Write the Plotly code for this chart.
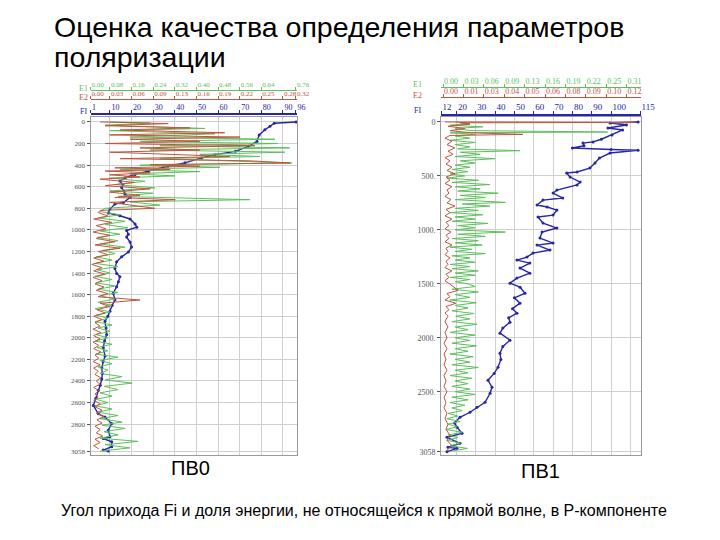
import plotly.graph_objects as go

# ---------------- DATA ----------------
# Left panel (ПВ0)
l_fi_ticks = [1, 10, 20, 30, 40, 50, 60, 70, 80, 90, 96]
l_e1_text = ["0.00", "0.08", "0.16", "0.24", "0.32", "0.40", "0.48", "0.56", "0.64", "0.76"]
l_e2_text = ["0.00", "0.03", "0.06", "0.09", "0.13", "0.16", "0.19", "0.22", "0.25", "0.28", "0.32"]
l_depth_ticks = [0, 200, 400, 600, 800, 1000, 1200, 1400, 1600, 1800, 2000, 2200, 2400, 2600, 2800, 3058]

l_fi_depth = [0, 12, 40, 73, 120, 180, 226, 272, 303, 333, 379, 410, 456, 486, 517, 548, 580, 608, 640, 670,
              700, 746, 761, 807, 844, 869, 899, 945, 975, 1006, 1040, 1067, 1113, 1159, 1205, 1250, 1296, 1358,
              1404, 1434, 1480, 1526, 1587, 1648, 1700, 1755, 1800, 1847, 1910, 1970, 2030, 2092, 2168, 2220,
              2275, 2330, 2382, 2440, 2489, 2560, 2627, 2704, 2734, 2795, 2856, 2917, 2933, 2963, 3009, 3040, 3050]
l_fi = [96, 86, 84, 81.6, 79, 78, 74, 68, 58.5, 52.4, 44.7, 36.8, 27.6, 21.6, 17, 14.6, 16, 15.4, 16.5, 17,
        19.3, 16.2, 12.3, 10, 9.2, 14.6, 19.3, 21.6, 22.4, 17.7, 18.5, 17.7, 19.3, 20, 18.5, 15.4, 13.1, 12.3,
        13.1, 14.6, 13.9, 13.1, 11.5, 12.3, 11, 10, 9, 7.7, 8.2, 8.5, 7.5, 6.9, 7.7, 6.8,
        6.2, 6.5, 6.2, 5.5, 4.6, 3.5, 2.3, 4.6, 7.7, 10.8, 9.2, 10, 6.9, 10.8, 10.8, 6.9, 9.2]

l_e1_depth = [0, 10, 30, 60, 80, 110, 140, 160, 180, 200, 220, 240, 260, 280, 300, 320, 340, 360, 380, 400,
              420, 440, 460, 480, 500, 520, 550, 580, 610, 640, 660, 690, 720, 740, 770, 800,
              830, 860, 890, 920, 950, 980, 1010, 1040, 1070, 1100, 1130, 1160, 1190, 1220, 1250, 1280, 1310,
              1340, 1370, 1400, 1430, 1460, 1490, 1520, 1550, 1580, 1610, 1640, 1670, 1700, 1730, 1760, 1790,
              1820, 1850, 1880, 1910, 1940, 1970, 2000, 2030, 2060, 2090, 2120, 2150, 2180, 2210, 2240, 2270,
              2300, 2330, 2360, 2390, 2420, 2450, 2480, 2510, 2540, 2570, 2600, 2630, 2660, 2690, 2720, 2750,
              2780, 2810, 2840, 2870, 2900, 2930, 2960, 2990, 3020, 3050]
l_e1 = [0.072, 0.220, 0.054, 0.424, 0.072, 0.461, 0.146, 0.683, 0.183, 0.694, 0.257, 0.738, 0.220, 0.720,
        0.405, 0.627, 0.257, 0.516, 0.746, 0.183, 0.479, 0.109, 0.405, 0.146, 0.313, 0.072, 0.202, 0.091,
        0.239, 0.072, 0.231, 0.102, 0.590, 0.146, 0.257, 0.054,
        0.035, 0.109, 0.028, 0.128, 0.054, 0.139, 0.035, 0.109, 0.024, 0.102, 0.035, 0.128, 0.043, 0.091,
        0.020, 0.080, 0.017, 0.102, 0.024, 0.072, 0.017, 0.080, 0.020, 0.091, 0.028, 0.102, 0.035, 0.091,
        0.028, 0.080, 0.017, 0.072, 0.020, 0.065, 0.017, 0.080, 0.028, 0.072, 0.020, 0.065, 0.017, 0.080,
        0.024, 0.065, 0.020, 0.102, 0.035, 0.080, 0.028, 0.065, 0.035, 0.117, 0.054, 0.154, 0.050, 0.102,
        0.035, 0.080, 0.020, 0.065, 0.017, 0.080, 0.028, 0.102, 0.035, 0.117, 0.043, 0.128, 0.050, 0.102,
        0.035, 0.176, 0.054, 0.146, 0.035]

l_e2_depth = [0, 15, 35, 55, 75, 100, 120, 140, 160, 180, 200, 220, 240, 260, 280, 300, 320, 340, 360, 380,
              395, 410, 425, 440, 455, 470, 490, 510, 530, 560, 590, 620, 650, 680, 700, 720, 745, 770, 800, 820,
              840, 870, 900, 930, 960, 990, 1020, 1050, 1080, 1110, 1140, 1170, 1200, 1230, 1260, 1290, 1320,
              1350, 1380, 1410, 1440, 1470, 1500, 1530, 1560, 1590, 1620, 1650, 1680, 1710, 1740, 1770, 1800,
              1830, 1860, 1890, 1920, 1950, 1980, 2010, 2040, 2070, 2100, 2130, 2160, 2190, 2220, 2250, 2280,
              2310, 2340, 2370, 2400, 2430, 2460, 2490, 2520, 2550, 2580, 2610, 2640, 2670, 2700, 2730, 2760,
              2790, 2820, 2850, 2880, 2910, 2940, 2970, 3000, 3030]
l_e2 = [0.015, 0.121, 0.023, 0.155, 0.046, 0.209, 0.030, 0.233, 0.062, 0.170, 0.023, 0.256, 0.077, 0.170,
        0.030, 0.124, 0.217, 0.046, 0.248, 0.311, 0.093, 0.170, 0.038, 0.124, 0.023, 0.093, 0.030, 0.077,
        0.015, 0.069, 0.023, 0.093, 0.030, 0.077, 0.038, 0.132, 0.030, 0.062, 0.100, 0.015,
        0.012, 0.027, 0.005, 0.033, 0.009, 0.024, 0.004, 0.030, 0.009, 0.038,
        0.007, 0.046, 0.012, 0.027, 0.005, 0.021, 0.002, 0.018, 0.005, 0.023,
        0.004, 0.018, 0.007, 0.021, 0.009, 0.027, 0.012, 0.077, 0.015, 0.030,
        0.010, 0.023, 0.005, 0.018, 0.007, 0.015, 0.004, 0.016, 0.005, 0.015,
        0.004, 0.013, 0.005, 0.016, 0.007, 0.013, 0.004, 0.015, 0.005, 0.012,
        0.007, 0.016, 0.009, 0.015, 0.005, 0.013, 0.007, 0.012, 0.005, 0.015,
        0.007, 0.018, 0.009, 0.021, 0.010, 0.018, 0.007, 0.015, 0.009, 0.019,
        0.007, 0.015, 0.005, 0.013]

# Right panel (ПВ1)
r_fi_ticks = [12, 20, 30, 40, 50, 60, 70, 80, 90, 100, 115]
r_e1_text = ["0.00", "0.03", "0.06", "0.09", "0.13", "0.16", "0.19", "0.22", "0.25", "0.31"]
r_e2_text = ["0.00", "0.01", "0.03", "0.04", "0.05", "0.06", "0.08", "0.09", "0.10", "0.12"]
r_depth_ticks = [0, 500, 1000, 1500, 2000, 2500, 3058]
r_depth_text = ["0", "500.", "1000.", "1500.", "2000.", "2500.", "3058"]

r_fi_depth = [0, 9, 28, 56, 74, 120, 160, 185, 195, 220, 241, 255, 262, 288, 334, 380, 427, 464, 473, 510,
              557, 584, 631, 659, 705, 724, 770, 788, 816, 863, 881, 937, 983, 1020, 1076, 1122, 1141, 1187,
              1215, 1252, 1280, 1308, 1354, 1401, 1447, 1494, 1531, 1587, 1630, 1679, 1730, 1772, 1815, 1855,
              1910, 1957, 2022, 2080, 2143, 2200, 2273, 2330, 2393, 2458, 2514, 2597, 2644, 2690, 2737, 2790,
              2829, 2885, 2922, 2978, 3015, 3024, 3055]
r_fi = [114, 99.5, 108, 98.4, 106, 100.5, 95, 90.7, 85.5, 86, 80, 100, 114, 99.5, 94, 91.7, 89, 82.4, 77, 78.8,
        84, 82.4, 72, 70, 75, 64.8, 61.7, 66.9, 72, 70, 62.2, 64.8, 72, 64.3, 63.2, 70, 61.7, 68.4,
        59.6, 56.5, 51.3, 58, 52.9, 58, 51.3, 47.7, 52.9, 55.5, 50, 52.9, 49, 51.3, 47, 47.7,
        44, 42.5, 47.7, 44, 42.5, 43, 41.5, 39.5, 36.3, 38.4, 37.4, 34.8, 30.6, 27, 21.8, 19,
        20.3, 22.9, 15.1, 21.8, 15.6, 20.3, 15.1]

r_e1_depth = [0, 15, 30, 45, 60, 80, 93, 100, 115, 130, 150, 170, 190, 210, 230, 250, 266, 280, 300, 320,
              340, 360, 380, 400, 420, 440, 460, 480, 500, 520, 540, 560, 580, 600, 620, 640, 660, 680, 700,
              720, 745, 760, 780, 800, 820, 840, 860, 880, 900, 920, 940, 960, 980, 1000, 1020, 1040, 1060,
              1080, 1100, 1120, 1140, 1160, 1180, 1200, 1220, 1240, 1260, 1280, 1300, 1320, 1340, 1360, 1380,
              1400, 1420, 1440, 1460, 1480, 1500,
              1525, 1550, 1575, 1600, 1625, 1650, 1675, 1700, 1725, 1750, 1775, 1800, 1825, 1850, 1875, 1900,
              1925, 1950, 1975, 2000, 2025, 2050, 2075, 2100, 2125, 2150, 2175, 2200, 2225, 2250, 2275, 2300,
              2325, 2350, 2375, 2400, 2425, 2450, 2475, 2500, 2525, 2550, 2575, 2600, 2625, 2650, 2675, 2700,
              2725, 2750, 2775, 2800, 2825, 2850, 2875, 2900, 2925, 2950, 2975, 3000, 3025, 3050]
r_e1 = [0.022, 0.045, 0.014, 0.065, 0.022, 0.045, 0.259, 0.014, 0.053, 0.022, 0.045, 0.014, 0.053, 0.022,
        0.045, 0.026, 0.123, 0.030, 0.061, 0.022, 0.084, 0.030, 0.053, 0.022, 0.045, 0.017, 0.042, 0.014,
        0.037, 0.009, 0.058, 0.017, 0.076, 0.022, 0.061, 0.026, 0.089, 0.030, 0.069, 0.022, 0.100, 0.033,
        0.076, 0.022, 0.058, 0.014, 0.065, 0.022, 0.053, 0.017, 0.073, 0.026, 0.053, 0.022, 0.100, 0.026,
        0.069, 0.017, 0.058, 0.022, 0.064, 0.014, 0.048, 0.022, 0.069, 0.017, 0.045, 0.022, 0.053, 0.014,
        0.045, 0.017, 0.058, 0.022, 0.053, 0.014, 0.045, 0.022, 0.042,
        0.053, 0.017, 0.058, 0.022, 0.045, 0.014, 0.055, 0.022, 0.042, 0.017, 0.051, 0.023, 0.045, 0.017,
        0.056, 0.022, 0.042, 0.014, 0.053, 0.022, 0.045, 0.017, 0.055, 0.022, 0.042, 0.014, 0.050, 0.022,
        0.045, 0.017, 0.058, 0.022, 0.042, 0.014, 0.048, 0.022, 0.042, 0.017, 0.045, 0.022, 0.053, 0.017,
        0.042, 0.014, 0.037, 0.017, 0.033, 0.011, 0.026, 0.009, 0.030, 0.011, 0.025, 0.008, 0.033, 0.011,
        0.026, 0.009, 0.030, 0.014, 0.041, 0.017]

r_e2_depth = [0, 4, 8, 20, 40, 60, 80, 100, 115, 125,
              150, 180, 210, 240, 270, 300, 330, 360, 390, 420, 450, 480, 510, 540, 570, 600, 630, 660, 690,
              720, 750, 780, 810, 840, 870, 900, 930, 960, 990, 1020, 1050, 1080, 1110, 1140, 1170, 1200,
              1230, 1260, 1290, 1320, 1350, 1380, 1410, 1440, 1470, 1500,
              1530, 1560, 1590, 1620, 1650, 1680, 1710, 1740, 1770, 1800,
              1850, 1900, 1950, 2000, 2050, 2100, 2150, 2200, 2250, 2300, 2350, 2400, 2450, 2500, 2550, 2600,
              2650, 2700, 2750, 2800, 2850, 2900, 2950, 3000, 3050]
r_e2 = [0.0024, 0.117, 0.0115, 0.0175, 0.0042, 0.0145, 0.0054, 0.0175, 0.0494, 0.0054,
        0.0024, 0.0066, 0.0036, 0.0084, 0.0042, 0.0072, 0.0024, 0.0054, 0.0030, 0.0066,
        0.0036, 0.0084, 0.0030, 0.0054, 0.0024, 0.0066, 0.0036, 0.0048, 0.0024, 0.0060,
        0.0036, 0.0084, 0.0030, 0.0054, 0.0024, 0.0066, 0.0030, 0.0048, 0.0024, 0.0060,
        0.0030, 0.0048, 0.0024, 0.0066, 0.0030, 0.0042, 0.0024, 0.0054, 0.0030, 0.0042,
        0.0024, 0.0066, 0.0030, 0.0048, 0.0024, 0.0054,
        0.0078, 0.0103, 0.0036, 0.0054, 0.0024, 0.0090, 0.0030, 0.0048, 0.0024, 0.0042,
        0.0024, 0.0042, 0.0024, 0.0036, 0.0018, 0.0036, 0.0018, 0.0030, 0.0018, 0.0036,
        0.0018, 0.0030, 0.0018, 0.0036, 0.0018, 0.0030, 0.0018, 0.0036, 0.0024, 0.0042,
        0.0030, 0.0054, 0.0036, 0.0066, 0.0030]

# ---------------- LAYOUT HELPERS ----------------
W, H = 720, 540


def px(x):
    return x / W


def py(y):
    return 1 - y / H


GREEN = "#5cbf5c"
RED = "#c0553f"
BLUE = "#2626a6"
GRID = "#cfcfcf"
FRAME = "#9a9a9a"
FONT = "Liberation Sans, Arial, sans-serif"
SERIF = "Liberation Serif, Times New Roman, serif"

L_FI_RANGE = [1, 96.5]
L_E1_RANGE = [0, 0.765]
L_E2_RANGE = [0, 0.3216]
R_FI_RANGE = [12, 115.5]
R_E1_RANGE = [0, 0.311]
R_E2_RANGE = [0, 0.1206]


def rescale(v, src, dst):
    return dst[0] + (v - src[0]) / (src[1] - src[0]) * (dst[1] - dst[0])


# left E-scales are labelled at the FI grid lines (E1 skips the 90 line)
l_e1_pos = [rescale(f, L_FI_RANGE, L_E1_RANGE) for f in [1, 10, 20, 30, 40, 50, 60, 70, 80, 96]]
l_e2_pos = [rescale(f, L_FI_RANGE, L_E2_RANGE) for f in l_fi_ticks]
# right E-scales are labelled at ten equally spaced marks (fractions of the track width)
r_frac = [(2 + 20.4 * i) / 200 for i in range(10)]
r_e1_pos = [R_E1_RANGE[1] * f for f in r_frac]
r_e2_pos = [R_E2_RANGE[1] * f for f in r_frac]

fig = go.Figure()

# traces - left
fig.add_trace(go.Scatter(x=l_e2, y=l_e2_depth, mode="lines", line=dict(color=RED, width=1),
                         xaxis="x3", yaxis="y", hoverinfo="skip"))
fig.add_trace(go.Scatter(x=l_e1, y=l_e1_depth, mode="lines", line=dict(color=GREEN, width=1),
                         xaxis="x2", yaxis="y", hoverinfo="skip"))
fig.add_trace(go.Scatter(x=l_fi, y=l_fi_depth, mode="lines+markers", line=dict(color=BLUE, width=1.4),
                         marker=dict(color=BLUE, size=3), xaxis="x", yaxis="y", hoverinfo="skip"))
fig.add_trace(go.Scatter(x=l_fi, y=l_fi_depth, mode="lines", line=dict(color=BLUE, width=0),
                         opacity=0, xaxis="x4", yaxis="y", hoverinfo="skip"))
# traces - right
fig.add_trace(go.Scatter(x=r_e2, y=r_e2_depth, mode="lines", line=dict(color=RED, width=1),
                         xaxis="x7", yaxis="y2", hoverinfo="skip"))
fig.add_trace(go.Scatter(x=r_e1, y=r_e1_depth, mode="lines", line=dict(color=GREEN, width=1),
                         xaxis="x6", yaxis="y2", hoverinfo="skip"))
fig.add_trace(go.Scatter(x=r_fi, y=r_fi_depth, mode="lines+markers", line=dict(color=BLUE, width=1.4),
                         marker=dict(color=BLUE, size=3), xaxis="x5", yaxis="y2", hoverinfo="skip"))
fig.add_trace(go.Scatter(x=r_fi, y=r_fi_depth, mode="lines", line=dict(color=BLUE, width=0),
                         opacity=0, xaxis="x8", yaxis="y2", hoverinfo="skip"))

L_DOM = [px(90.5), px(297)]
R_DOM = [px(441), px(641)]
Y_DOM = [py(455), py(117)]
Y_RANGE = [3086, -46]


def header_axis(rng, tickvals, ticktext, color, ypix, base, fsize, lw=1):
    return dict(overlaying=base, anchor="free", position=py(ypix), side="top", range=rng,
                tickmode="array", tickvals=tickvals, ticktext=ticktext, tickangle=0,
                ticks="outside", ticklen=3, tickcolor=color, tickwidth=1,
                ticklabelposition="outside right",
                tickfont=dict(family=SERIF, size=fsize, color=color),
                showline=True, linecolor=color, linewidth=lw, showgrid=False, zeroline=False,
                fixedrange=True)


layout = dict(
    width=W, height=H, margin=dict(l=0, r=0, t=0, b=0),
    paper_bgcolor="white", plot_bgcolor="white", template="none",
    showlegend=False,
    xaxis=dict(domain=L_DOM, range=L_FI_RANGE, anchor="y", tickmode="array", tickvals=l_fi_ticks[1:-1],
               showticklabels=False, ticks="", showgrid=True, gridcolor=GRID, gridwidth=1,
               showline=True, mirror=True, linecolor=FRAME, linewidth=1, zeroline=False),
    yaxis=dict(domain=Y_DOM, range=Y_RANGE, anchor="x", tickmode="array", tickvals=l_depth_ticks,
               ticktext=[str(v) for v in l_depth_ticks], ticks="outside", ticklen=3, tickcolor="#555",
               tickfont=dict(family=SERIF, size=7, color="#555"),
               showgrid=True, gridcolor=GRID, showline=True, mirror=True, linecolor=FRAME, zeroline=False),
    xaxis2=header_axis(L_E1_RANGE, l_e1_pos, l_e1_text, GREEN, 90, "x", 7),
    xaxis3=header_axis(L_E2_RANGE, l_e2_pos, l_e2_text, RED, 99, "x", 7),
    xaxis4=header_axis(L_FI_RANGE, l_fi_ticks, [str(v) for v in l_fi_ticks], BLUE, 114, "x", 8, lw=2),
    xaxis5=dict(domain=R_DOM, range=R_FI_RANGE, anchor="y2", tickmode="array",
                tickvals=[20, 30, 40, 50, 60, 70, 80, 90, 100, 110],
                showticklabels=False, ticks="", showgrid=True, gridcolor=GRID,
                showline=True, mirror=True, linecolor=FRAME, zeroline=False),
    yaxis2=dict(domain=Y_DOM, range=Y_RANGE, anchor="x5", tickmode="array", tickvals=r_depth_ticks,
                ticktext=r_depth_text, ticks="outside", ticklen=3, tickcolor="#555",
                tickfont=dict(family=SERIF, size=8, color="#555"),
                showgrid=True, gridcolor=GRID, showline=True, mirror=True, linecolor=FRAME, zeroline=False),
    xaxis6=header_axis(R_E1_RANGE, r_e1_pos, r_e1_text, GREEN, 87, "x5", 8),
    xaxis7=header_axis(R_E2_RANGE, r_e2_pos, r_e2_text, RED, 97, "x5", 8),
    xaxis8=header_axis(R_FI_RANGE, r_fi_ticks, [str(v) for v in r_fi_ticks], BLUE, 115, "x5", 9, lw=2),
)
fig.update_layout(**layout)

anns = []
for xp, items in [(83, [("E1", 88, GREEN), ("E2", 98, RED), ("FI", 112, BLUE)]),
                  (417, [("E1", 84, GREEN), ("E2", 95, RED), ("FI", 111, BLUE)])]:
    for txt, yp, col in items:
        anns.append(dict(x=px(xp), y=py(yp), xref="paper", yref="paper", text=txt, showarrow=False,
                         font=dict(family=SERIF, size=8, color=col),
                         xanchor="center", yanchor="middle"))
anns.append(dict(x=px(52), y=py(27), xref="paper", yref="paper", showarrow=False, xanchor="left",
                 yanchor="middle", text="Оценка качества определения параметров",
                 font=dict(family=FONT, size=28.5, color="black")))
anns.append(dict(x=px(52), y=py(57), xref="paper", yref="paper", showarrow=False, xanchor="left",
                 yanchor="middle", text="поляризации",
                 font=dict(family=FONT, size=28.5, color="black")))
anns.append(dict(x=px(190), y=py(468), xref="paper", yref="paper", showarrow=False, text="ПВ0",
                 xanchor="center", yanchor="middle", font=dict(family=FONT, size=20, color="black")))
anns.append(dict(x=px(540), y=py(471), xref="paper", yref="paper", showarrow=False, text="ПВ1",
                 xanchor="center", yanchor="middle", font=dict(family=FONT, size=20, color="black")))
anns.append(dict(x=px(364), y=py(510), xref="paper", yref="paper", showarrow=False,
                 xanchor="center", yanchor="middle",
                 text="Угол прихода Fi и доля энергии, не относящейся к прямой волне, в Р-компоненте",
                 font=dict(family=FONT, size=16, color="black")))
fig.update_layout(annotations=anns)

fig.write_html("out.html", config={"displayModeBar": False},
               post_script="document.body.style.margin='0px';")
